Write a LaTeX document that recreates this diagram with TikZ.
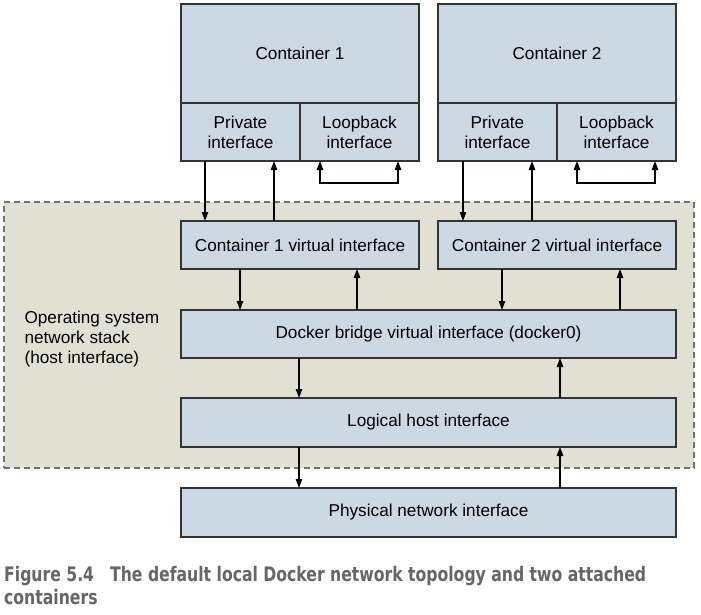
\documentclass[tikz,border=0pt]{standalone}
\usepackage{fontspec}
\setmainfont{Liberation Sans}
\newfontfamily\capfont{DejaVu Sans Condensed Bold}[FakeStretch=0.87]
\usetikzlibrary{arrows.meta}
\definecolor{boxblue}{HTML}{CCD9E3}
\definecolor{hostbg}{HTML}{E1E1D3}
\definecolor{dashgray}{HTML}{707070}
\definecolor{capgray}{HTML}{666666}
\tikzset{
  box/.style={draw=black!80,fill=boxblue,line width=1.2pt,inner sep=0pt,outer sep=0pt,align=center,font=\fontsize{17.2}{20}\selectfont},
  arr/.style={line width=1.2pt,-{Triangle[length=9pt,width=6.5pt]}},
  loop/.style={line width=1.2pt,{Triangle[length=9pt,width=6.5pt]}-{Triangle[length=9pt,width=6.5pt]}}
}
\begin{document}
\begin{tikzpicture}[x=1pt,y=-1pt]
\useasboundingbox (0,0) rectangle (701,615);
% host region
\node[draw=dashgray,fill=hostbg,dashed,dash pattern=on 6pt off 4pt,line width=1.3pt,minimum width=690pt,minimum height=266pt,inner sep=0pt] (host) at (349,335) {};
\node[anchor=west,align=left,font=\fontsize{17.2}{20}\selectfont] (oslabel) at (21,339) {Operating system\\network stack\\(host interface)};

% containers
\node[box,minimum width=238pt,minimum height=99pt] (c1) at (300,53.5) {Container 1};
\node[box,minimum width=119pt,minimum height=58pt] (c1priv) at (240.5,132) {Private\\interface};
\node[box,minimum width=119pt,minimum height=58pt] (c1loop) at (359.5,132) {Loopback\\interface};
\node[box,minimum width=238pt,minimum height=99pt] (c2) at (557,53.5) {Container 2};
\node[box,minimum width=119pt,minimum height=58pt] (c2priv) at (497.5,132) {Private\\interface};
\node[box,minimum width=119pt,minimum height=58pt] (c2loop) at (616.5,132) {Loopback\\interface};

% interfaces
\node[box,minimum width=238pt,minimum height=48pt] (v1) at (300,245) {Container 1 virtual interface};
\node[box,minimum width=238pt,minimum height=48pt] (v2) at (557,245) {Container 2 virtual interface};
\node[box,minimum width=495pt,minimum height=48pt] (bridge) at (428.5,334) {Docker bridge virtual interface (docker0)};
\node[box,minimum width=495pt,minimum height=49pt] (logical) at (428.5,422.5) {Logical host interface};
\node[box,minimum width=495pt,minimum height=49pt] (phys) at (428.5,512.5) {Physical network interface};

% connectors
\draw[arr] ([xshift=24pt]c1priv.south west) -- ([xshift=24pt]v1.north west);
\draw[arr] ([xshift=93pt]v1.north west) -- ([xshift=93pt]c1priv.south west);
\draw[loop] ([xshift=20pt]c1loop.south west) -- ++(0,22) -| ([xshift=-21pt]c1loop.south east);
\draw[arr] ([xshift=25pt]c2priv.south west) -- ([xshift=25pt]v2.north west);
\draw[arr] ([xshift=94pt]v2.north west) -- ([xshift=94pt]c2priv.south west);
\draw[loop] ([xshift=20pt]c2loop.south west) -- ++(0,22) -| ([xshift=-21pt]c2loop.south east);

\draw[arr] ([xshift=59pt]v1.south west) -- ([xshift=59pt]bridge.north west);
\draw[arr] ([xshift=176pt]bridge.north west) -- ([xshift=176pt]v1.south west);
\draw[arr] ([xshift=64pt]v2.south west) -- ([xshift=321pt]bridge.north west);
\draw[arr] ([xshift=439pt]bridge.north west) -- ([xshift=182pt]v2.south west);

\draw[arr] ([xshift=118pt]bridge.south west) -- ([xshift=118pt]logical.north west);
\draw[arr] ([xshift=379pt]logical.north west) -- ([xshift=379pt]bridge.south west);
\draw[arr] ([xshift=118pt]logical.south west) -- ([xshift=118pt]phys.north west);
\draw[arr] ([xshift=379pt]phys.north west) -- ([xshift=379pt]logical.south west);

% caption
\node[anchor=north west,align=left,text=capgray,font=\capfont\fontsize{20}{23}\selectfont,inner sep=0pt] (caption) at (4,566)
  {Figure 5.4\hspace{16pt}The default local Docker network topology and two attached\\containers};
\end{tikzpicture}
\end{document}
